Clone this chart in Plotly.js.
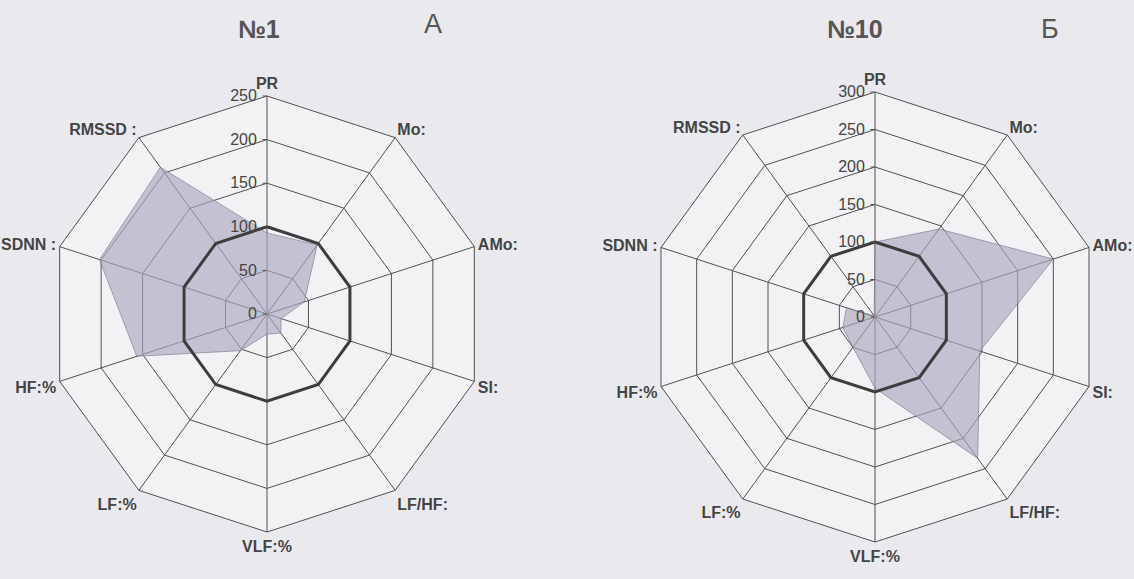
<!DOCTYPE html>
<html>
<head>
<meta charset="utf-8">
<script src="https://cdn.plot.ly/plotly-3.0.1.min.js"></script>
<style>html,body{margin:0;padding:0;background:#eaeaee;}#chart{width:1134px;height:579px;}</style>
</head>
<body>
<div id="chart"></div>
<script>
// ---- data ----
var categories = ["PR", "Mo:", "AMo:", "SI:", "LF/HF:", "VLF:%", "LF:%", "HF:%", "SDNN :", "RMSSD :"];
var values1  = [93, 98, 45, 17, 27, 23, 52, 157, 202, 208];   // №1
var values10 = [100, 145, 250, 147, 233, 95, 50, 45, 40, 2];  // №10
var norm     = [100, 100, 100, 100, 100, 100, 100, 100, 100, 100];
var radialTicks1  = [0, 50, 100, 150, 200, 250];
var radialTicks10 = [0, 50, 100, 150, 200, 250, 300];
var titles = ["№1", "№10"];
var letters = ["А", "Б"];

function closed(a) { return a.concat([a[0]]); }
var cats = closed(categories);

var fillColor = "rgba(172,168,192,0.66)";
var fillLine = "rgba(110,108,125,0.7)";
var normLine = "#3d3d3d";

var traces = [
  {type: "scatterpolar", subplot: "polar", r: closed(values1), theta: cats, mode: "lines",
   fill: "toself", fillcolor: fillColor, line: {color: fillLine, width: 0.8}, hoverinfo: "r+theta"},
  {type: "scatterpolar", subplot: "polar", r: closed(norm), theta: cats, mode: "lines",
   line: {color: normLine, width: 3}, hoverinfo: "skip"},
  {type: "scatterpolar", subplot: "polar2", r: closed(values10), theta: cats, mode: "lines",
   fill: "toself", fillcolor: fillColor, line: {color: fillLine, width: 0.8}, hoverinfo: "r+theta"},
  {type: "scatterpolar", subplot: "polar2", r: closed(norm), theta: cats, mode: "lines",
   line: {color: normLine, width: 3}, hoverinfo: "skip"}
];

var fontFam = "'Liberation Sans Narrow', 'Liberation Sans', Arial, sans-serif";

function polarCfg(dom, maxR, ticks) {
  return {
    domain: dom,
    gridshape: "linear",
    bgcolor: "#f2f2f5",
    angularaxis: {
      type: "category", categoryarray: categories, direction: "clockwise", rotation: 90,
      showline: true, linecolor: "#505050", linewidth: 1,
      showgrid: true, gridcolor: "#505050", gridwidth: 1,
      ticks: "", tickfont: {family: "'Liberation Sans', Arial, sans-serif", size: 16, color: "#444", weight: "bold"}
    },
    radialaxis: {
      range: [0, maxR], tickvals: ticks, ticktext: ticks.map(String),
      showline: false, showgrid: true, gridcolor: "#505050", gridwidth: 1,
      ticks: "outside", ticklen: 4, tickcolor: "#505050",
      tickfont: {family: fontFam, size: 16, color: "#444"},
      angle: 90, tickangle: 90, side: "counterclockwise"
    }
  };
}

var W = 1134, H = 579;
function dom(cx, cy, R) {
  return {x: [(cx - R) / W, (cx + R) / W], y: [(H - cy - R) / H, (H - cy + R) / H]};
}

var layout = {
  width: W, height: H,
  margin: {l: 0, r: 0, t: 0, b: 0},
  paper_bgcolor: "#eaeaee",
  showlegend: false,
  polar: polarCfg(dom(267, 314, 218), 250, radialTicks1),
  polar2: polarCfg(dom(875, 317, 225), 300, radialTicks10),
  annotations: [
    {text: titles[0], x: 259 / W, y: 1 - 29 / H, xref: "paper", yref: "paper", xanchor: "center", yanchor: "middle", showarrow: false,
     font: {family: fontFam, size: 25, color: "#555", weight: "bold"}},
    {text: letters[0], x: 433 / W, y: 1 - 24 / H, xref: "paper", yref: "paper", xanchor: "center", yanchor: "middle", showarrow: false,
     font: {family: "'Liberation Sans', Arial, sans-serif", size: 27, color: "#555"}},
    {text: titles[1], x: 855 / W, y: 1 - 29 / H, xref: "paper", yref: "paper", xanchor: "center", yanchor: "middle", showarrow: false,
     font: {family: fontFam, size: 25, color: "#555", weight: "bold"}},
    {text: letters[1], x: 1050 / W, y: 1 - 29 / H, xref: "paper", yref: "paper", xanchor: "center", yanchor: "middle", showarrow: false,
     font: {family: "'Liberation Sans', Arial, sans-serif", size: 27, color: "#555"}}
  ]
};

Plotly.newPlot("chart", traces, layout, {displayModeBar: false, staticPlot: true});
</script>
</body>
</html>
